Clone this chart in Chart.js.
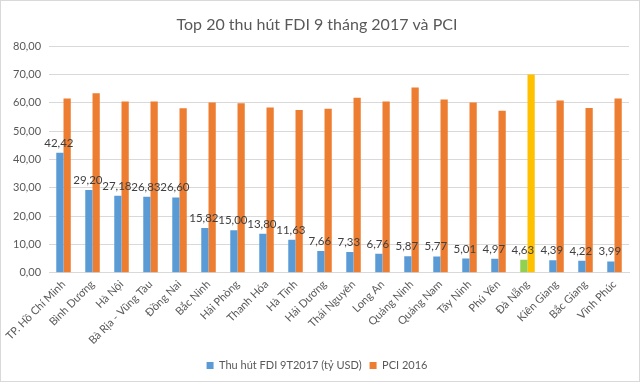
<!DOCTYPE html>
<html>
<head>
<meta charset="utf-8">
<script src="https://cdn.jsdelivr.net/npm/chart.js@4/dist/chart.umd.min.js"></script>
<style>
  html, body { margin: 0; padding: 0; background: #fff; }
  #wrap { position: relative; width: 640px; height: 382px; box-sizing: border-box; border: 1px solid #D9D9D9; }
  canvas { display: block; }
</style>
</head>
<body>
<div id="wrap"><canvas id="c"></canvas></div>
<script>
const categories = ["TP. Hồ Chí Minh", "Bình Dương", "Hà Nội", "Bà Rịa - Vũng Tàu", "Đồng Nai", "Bắc Ninh", "Hải Phòng", "Thanh Hóa", "Hà Tĩnh", "Hải Dương", "Thái Nguyên", "Long An", "Quảng Ninh", "Quảng Nam", "Tây Ninh", "Phú Yên", "Đà Nẵng", "Kiên Giang", "Bắc Giang", "Vĩnh Phúc"];
const fdi = [42.42, 29.20, 27.18, 26.83, 26.60, 15.82, 15.00, 13.80, 11.63, 7.66, 7.33, 6.76, 5.87, 5.77, 5.01, 4.97, 4.63, 4.39, 4.22, 3.99];
const pci = [61.5, 63.4, 60.5, 60.5, 58.1, 60.1, 59.9, 58.4, 57.5, 57.9, 61.8, 60.5, 65.4, 61.2, 60.1, 57.2, 70.0, 60.8, 58.2, 61.5];
const yTicks = [0, 10, 20, 30, 40, 50, 60, 70, 80];
const highlight = "Đà Nẵng";

const fmt = v => v.toFixed(2).replace('.', ',');
const FONT = "Lato, 'Liberation Sans', sans-serif";

const blueColors = categories.map(c => c === highlight ? '#92D050' : '#5B9BD5');
const orangeColors = categories.map(c => c === highlight ? '#FFC000' : '#ED7D31');

const labelPlugin = {
  id: 'valueLabels',
  afterDatasetsDraw(chart) {
    const ctx = chart.ctx;
    const meta = chart.getDatasetMeta(0);
    ctx.save();
    ctx.font = "11.5px " + FONT;
    ctx.fillStyle = '#404040';
    ctx.textAlign = 'center';
    ctx.textBaseline = 'bottom';
    meta.data.forEach((bar, i) => {
      ctx.fillText(fmt(fdi[i]), bar.x - 1, bar.y - 4);
    });
    ctx.restore();
  }
};

new Chart(document.getElementById('c'), {
  type: 'bar',
  data: {
    labels: categories,
    datasets: [
      { label: 'Thu hút FDI 9T2017 (tỷ USD)', data: fdi, backgroundColor: blueColors, borderWidth: 0 },
      { label: 'PCI 2016', data: pci, backgroundColor: orangeColors, borderWidth: 0 }
    ]
  },
  options: {
    responsive: true,
    maintainAspectRatio: false,
    animation: false,
    layout: { padding: { left: 4, right: 10, top: 4, bottom: 0 } },
    datasets: { bar: { categoryPercentage: 0.5, barPercentage: 1.0 } },
    plugins: {
      title: {
        display: true,
        text: 'Top 20 thu hút FDI 9 tháng 2017 và PCI',
        color: '#595959',
        font: { family: FONT, size: 16, weight: 'normal' },
        padding: { top: 10, bottom: 12 }
      },
      legend: {
        position: 'bottom',
        labels: {
          color: '#595959',
          font: { family: FONT, size: 11 },
          boxWidth: 7,
          boxHeight: 7,
          padding: 8,
          generateLabels(chart) {
            return chart.data.datasets.map((ds, i) => ({
              text: ds.label,
              fillStyle: i === 0 ? '#5B9BD5' : '#ED7D31',
              strokeStyle: i === 0 ? '#5B9BD5' : '#ED7D31',
              lineWidth: 0,
              hidden: false,
              datasetIndex: i,
              fontColor: '#595959'
            }));
          }
        }
      },
      tooltip: { enabled: false }
    },
    scales: {
      x: {
        grid: { display: false, drawTicks: false },
        border: { display: true, color: '#D9D9D9' },
        ticks: {
          color: '#595959',
          font: { family: FONT, size: 11 },
          maxRotation: 45,
          minRotation: 45,
          autoSkip: false,
          padding: 5
        }
      },
      y: {
        min: 0,
        max: 80,
        afterBuildTicks(axis) { axis.ticks = yTicks.map(v => ({ value: v })); },
        grid: { color: '#D9D9D9', drawTicks: false },
        border: { display: false },
        ticks: {
          color: '#595959',
          font: { family: FONT, size: 11 },
          padding: 8,
          callback: v => fmt(v)
        }
      }
    }
  },
  plugins: [labelPlugin]
});
</script>
</body>
</html>
